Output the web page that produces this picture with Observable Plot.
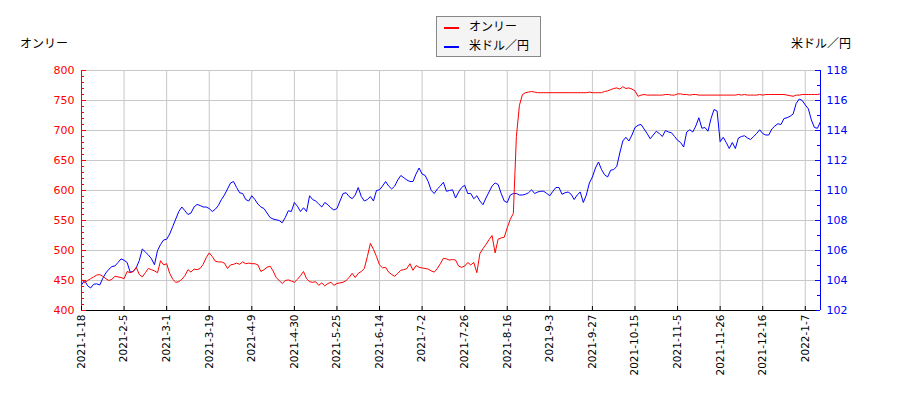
<!DOCTYPE html>
<html><head><meta charset="utf-8">
<script src="https://cdn.jsdelivr.net/npm/d3@7"></script>
<script src="https://cdn.jsdelivr.net/npm/@observablehq/plot@0.6"></script>
<style>
body{margin:0;background:#fff;font-family:"DejaVu Sans","Noto Sans CJK JP",sans-serif;}
#wrap{position:relative;width:900px;height:400px;}
.ttl{position:absolute;font-size:12px;color:#000;line-height:16px;white-space:nowrap;}
#legend{position:absolute;left:436px;top:16px;width:103px;height:39px;border:1px solid #888;background:#f4f4f4;font-size:12px;}
.li{position:absolute;left:7px;height:16px;line-height:16px;white-space:nowrap;}
.sw{display:inline-block;width:15px;height:2px;vertical-align:middle;margin-right:10px;}
</style></head>
<body><div id="wrap"></div>
<script>
const seriesNames = ["オンリー", "米ドル／円"];
const tickLabels = ["2021-1-18","2021-2-5","2021-3-1","2021-3-19","2021-4-9","2021-4-30","2021-5-25","2021-6-14","2021-7-2","2021-7-26","2021-8-16","2021-9-3","2021-9-27","2021-10-15","2021-11-5","2021-11-26","2021-12-16","2022-1-7"];
const tickEvery = 14;
const leftTicks = [400,450,500,550,600,650,700,750,800];
const rightTicks = [102,104,106,108,110,112,114,116,118];
const onlyValues = [
452,446,450,453,456,459,460,457,453,450,
452,457,456,455,453,465,463,465,472,460,
456,463,470,468,466,463,483,476,478,462,
452,447,448,452,458,468,464,469,468,470,
477,488,496,490,482,481,481,479,470,476,
477,479,477,481,478,479,478,478,476,465,
468,472,474,466,455,450,445,450,451,449,
447,452,458,465,453,448,447,448,442,446,
441,445,447,442,445,446,447,450,455,462,
455,462,465,470,490,512,502,490,476,471,
472,464,460,457,462,467,468,470,478,467,
475,472,471,470,469,466,464,470,478,487,
486,484,485,484,474,472,474,480,476,480,
463,495,503,510,518,525,496,519,521,522,
538,552,562,690,742,760,763,764,765,764,
763,763,763,763,763,763,763,763,763,763,
763,763,763,763,763,763,763,764,763,763,
763,763,765,766,768,770,771,769,773,770,
771,769,766,757,759,760,759,759,759,759,
759,759,760,760,759,759,761,761,760,760,
759,760,760,759,759,759,759,759,759,759,
759,759,759,759,759,759,760,759,760,759,
759,759,759,760,759,760,760,760,760,760,
760,760,759,758,757,759,759,760,760,760,
760,760,760,761];
const usdJpyValues = [
103.7,104.0,103.65,103.5,103.75,103.78,103.7,104.15,104.5,104.75,
104.93,104.97,105.2,105.44,105.35,105.2,104.56,104.6,104.85,105.33,
106.1,105.9,105.7,105.45,105.05,106.0,106.4,106.7,106.75,107.1,
107.6,108.1,108.6,108.9,108.65,108.4,108.5,108.9,109.07,109.0,
108.9,108.9,108.8,108.6,108.75,109.0,109.4,109.7,110.1,110.5,
110.6,110.2,109.85,109.8,109.4,109.3,109.65,109.4,109.1,108.9,
108.8,108.5,108.2,108.1,108.05,108.0,107.85,108.2,108.65,108.6,
109.2,108.95,108.6,108.85,108.6,109.65,109.4,109.3,109.1,108.9,
109.2,109.05,108.85,108.7,108.8,109.3,109.8,109.85,109.6,109.45,
109.7,110.2,109.6,109.3,109.4,109.6,109.3,110.0,110.05,110.3,
110.6,110.3,110.1,110.3,110.7,111.0,110.85,110.7,110.6,110.6,
111.1,111.5,111.1,111.0,110.6,110.0,109.8,110.1,110.3,110.55,
109.95,110.0,110.05,109.5,109.9,110.2,110.35,109.8,109.8,109.45,
109.65,109.3,109.05,109.5,109.9,110.3,110.5,110.4,109.8,109.3,
109.2,109.7,109.8,109.8,109.7,109.7,109.75,109.85,110.05,109.8,
109.9,109.95,109.95,109.8,109.65,109.95,110.2,110.2,109.75,109.85,
109.9,109.75,109.4,109.7,109.9,109.2,109.7,110.5,110.9,111.5,
111.9,111.4,111.05,110.9,111.35,111.4,111.6,112.5,113.3,113.55,
113.3,113.7,114.2,114.35,114.4,114.1,113.8,113.45,113.7,113.95,
113.8,113.6,114.0,113.9,113.85,113.6,113.35,113.2,112.9,113.9,
114.05,113.9,114.3,114.85,114.15,114.2,113.95,114.8,115.4,115.3,
113.25,113.55,113.2,112.8,113.2,112.8,113.5,113.6,113.65,113.5,
113.4,113.6,113.8,114.05,113.8,113.7,113.7,114.1,114.3,114.45,
114.4,114.8,114.85,114.95,115.1,115.8,116.1,116.0,115.7,115.45,
114.7,114.2,114.15,114.6];

const n = Math.max(onlyValues.length, usdJpyValues.length);
const L0 = 400, L1 = 800, R0 = 102, R1 = 118;
const toLeft = v => L0 + (v - R0) * (L1 - L0) / (R1 - R0);
const fromLeft = v => R0 + (v - L0) * (R1 - R0) / (L1 - L0);

const redData = onlyValues.map((v, i) => ({i, v}));
const blueData = usdJpyValues.map((v, i) => ({i, v: toLeft(v)}));
const tickIdx = tickLabels.map((d, k) => k * tickEvery);
const leftMinor = d3.range(L0, L1 + 1, 10).filter(v => !leftTicks.includes(v));
const rightMinor = d3.range(R0, R1 + 1, 1).filter(v => !rightTicks.includes(v)).map(toLeft);
const rightMajor = rightTicks.map(toLeft);

const W = 900, H = 400, mL = 81, mR = 80, mT = 70, mB = 90;
const pw = W - mL - mR, ph = H - mT - mB;

const chart = Plot.plot({
  width: W, height: H,
  marginLeft: mL, marginRight: mR, marginTop: mT, marginBottom: mB,
  style: {fontFamily: '"DejaVu Sans","Noto Sans CJK JP",sans-serif', fontSize: "11px", background: "#fff"},
  x: {domain: [0, n - 1]},
  y: {domain: [L0, L1]},
  marks: [
    Plot.gridX(tickIdx, {stroke: "#c8c8c8", strokeOpacity: 1}),
    Plot.gridY(leftTicks, {stroke: "#c8c8c8", strokeOpacity: 1}),
    Plot.lineY(blueData, {x: "i", y: "v", stroke: "#0000ff", strokeWidth: 1}),
    Plot.lineY(redData, {x: "i", y: "v", stroke: "#ff0000", strokeWidth: 1}),
    Plot.ruleY([L0], {stroke: "#000", strokeWidth: 1}),
    Plot.ruleX([0], {stroke: "#ff0000", strokeWidth: 1}),
    Plot.ruleX([n - 1], {stroke: "#0000ff", strokeWidth: 1}),
    Plot.tickY(leftTicks, {y: d => d, stroke: "#ff0000", insetRight: pw - 5}),
    Plot.tickY(leftMinor, {y: d => d, stroke: "#ff0000", insetRight: pw - 3}),
    Plot.tickY(rightMajor, {y: d => d, stroke: "#0000ff", insetLeft: pw - 5}),
    Plot.tickY(rightMinor, {y: d => d, stroke: "#0000ff", insetLeft: pw - 3}),
    Plot.tickX(tickIdx, {x: d => d, stroke: "#000", insetTop: ph - 4}),
    Plot.axisY(leftTicks, {anchor: "left", tickSize: 0, tickPadding: 7, color: "#ff0000", label: null, fontSize: 11}),
    Plot.axisY(rightMajor, {anchor: "right", tickSize: 0, tickPadding: 6, color: "#0000ff", label: null, fontSize: 11, tickFormat: d => String(Math.round(fromLeft(d)))}),
    Plot.axisX(tickIdx, {anchor: "bottom", tickSize: 0, tickPadding: 4, tickRotate: -90, label: null, fontSize: 10.5, color: "#000", tickFormat: d => tickLabels[tickIdx.indexOf(d)]})
  ]
});

const wrap = document.getElementById("wrap");
wrap.appendChild(chart);

const t1 = document.createElement("div");
t1.className = "ttl"; t1.style.left = "20px"; t1.style.top = "36px"; t1.textContent = seriesNames[0];
wrap.appendChild(t1);
const t2 = document.createElement("div");
t2.className = "ttl"; t2.style.left = "791px"; t2.style.top = "36px"; t2.textContent = seriesNames[1];
wrap.appendChild(t2);

const lg = document.createElement("div");
lg.id = "legend";
[["#ff0000", seriesNames[0], 2], ["#0000ff", seriesNames[1], 21]].forEach(([c, name, top]) => {
  const it = document.createElement("div");
  it.className = "li"; it.style.top = top + "px";
  const sw = document.createElement("span");
  sw.className = "sw"; sw.style.background = c;
  it.appendChild(sw);
  it.appendChild(document.createTextNode(name));
  lg.appendChild(it);
});
wrap.appendChild(lg);
</script></body></html>
